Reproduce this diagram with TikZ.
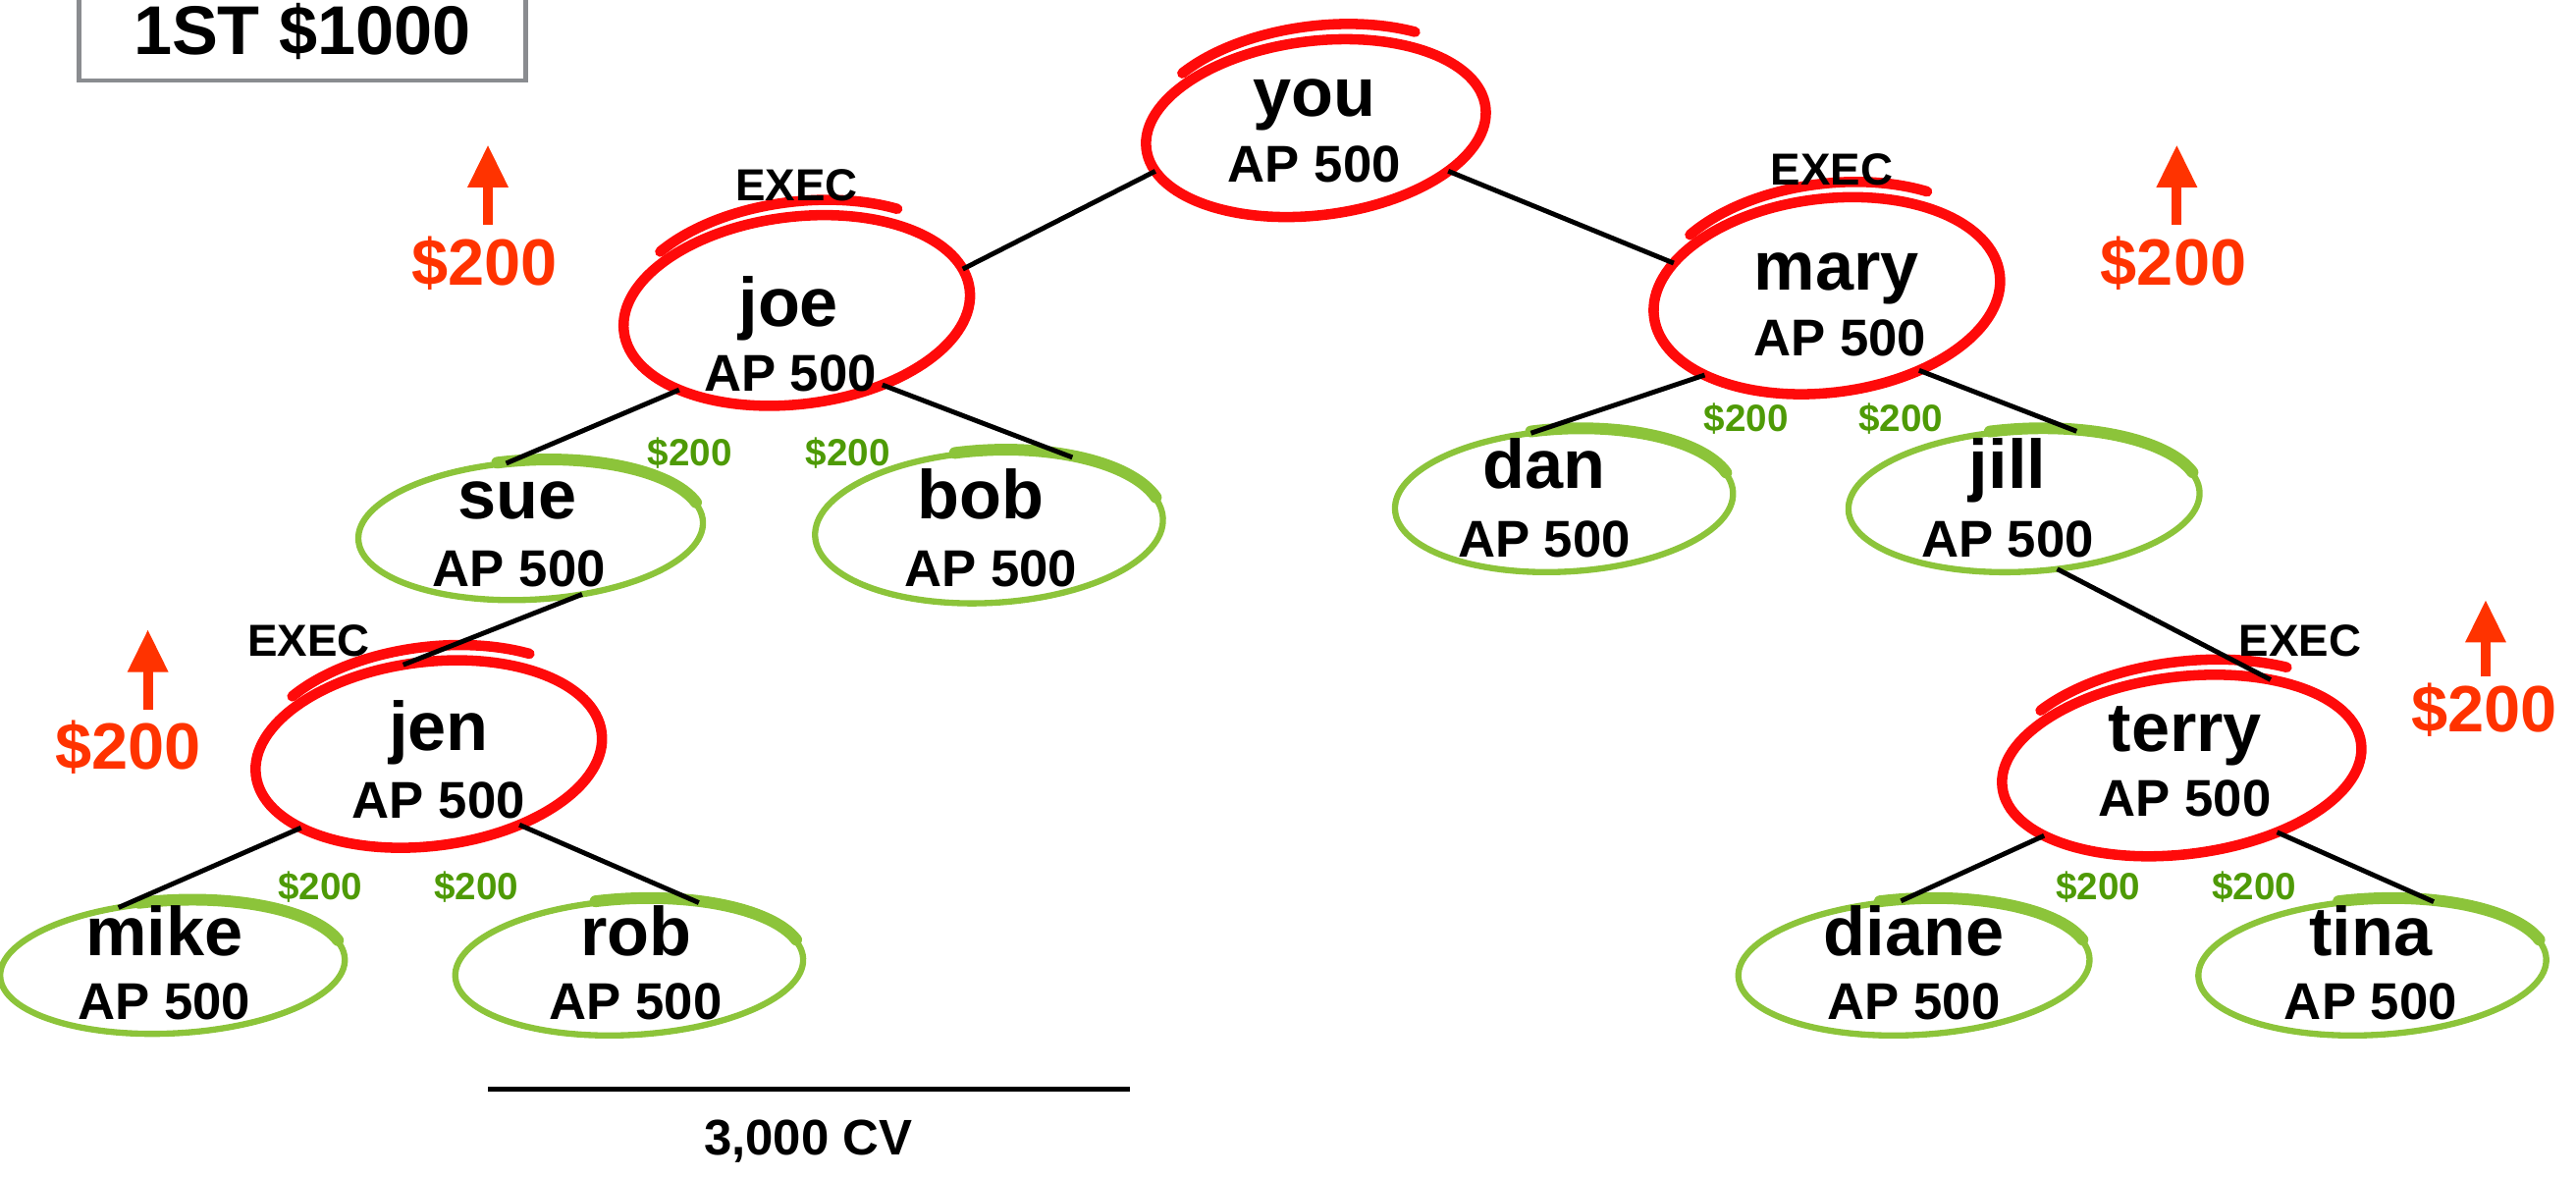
\documentclass[tikz,border=0pt]{standalone}
\usepackage{fontspec}
\setmainfont{Liberation Sans}
\usetikzlibrary{shapes.geometric,arrows.meta}
\definecolor{ringred}{HTML}{FF0A0A}
\definecolor{ringgreen}{HTML}{8CC43A}
\definecolor{moneygreen}{HTML}{4E9A06}
\definecolor{arrowred}{HTML}{FF3300}
\definecolor{boxgray}{HTML}{8A8C90}
\def\uu{0.016735cm}
\begin{document}
\begin{tikzpicture}[x=0.016735cm, y=0.016735cm,
  redring/.style={draw=ringred, line width=3pt, ellipse, inner sep=0pt, outer sep=0pt, rotate=7},
  greenring/.style={draw=ringgreen, line width=1.8pt, ellipse, inner sep=0pt, outer sep=0pt, rotate=3},
  tailred/.style={draw=ringred, line width=3pt, line cap=round},
  thickgreen/.style={draw=ringgreen, line width=3.4pt, line cap=round},
  nm/.style={font=\fontsize{20}{24}\selectfont\bfseries, anchor=mid, inner sep=0pt},
  ap/.style={font=\fontsize{15}{18}\selectfont\bfseries, inner sep=0pt},
  execlbl/.style={font=\fontsize{13}{16}\selectfont\bfseries, inner sep=0pt},
  gm/.style={font=\fontsize{11}{13}\selectfont\bfseries, text=moneygreen, inner sep=0pt},
  rm/.style={font=\fontsize{19}{22}\selectfont\bfseries, text=arrowred, inner sep=0pt},
  link/.style={line width=1.4pt},
  uparrow/.style={draw=arrowred, line width=2.9pt, -{Triangle[length=12.4pt,width=11pt]}},
  scalebar/.style={line width=1.4pt},
  prizebox/.style={draw=boxgray, line width=1.3pt, inner sep=0pt, font=\fontsize{20}{24}\selectfont\bfseries}
]
\useasboundingbox (0,0) rectangle (1568,-716.5);
\clip (0,0) rectangle (1568,-716.5);

% prize box
\node[prizebox, minimum width={272*\uu}, minimum height={60*\uu}] (prize) at (184,-19) {1ST \$1000};

% red rings
\node[redring, minimum width={208*\uu}, minimum height={106*\uu}] (you) at (801,-78) {};
\node[redring, minimum width={212*\uu}, minimum height={114*\uu}] (joe) at (485,-189) {};
\node[redring, minimum width={212*\uu}, minimum height={118*\uu}] (mary) at (1112,-180) {};
\node[redring, minimum width={212*\uu}, minimum height={112*\uu}] (jen) at (261,-459) {};
\node[redring, minimum width={220*\uu}, minimum height={108*\uu}] (terry) at (1328,-466) {};
\foreach \n/\a/\b in {you/104/53, joe/106/57, mary/106/59, jen/106/56, terry/110/54}{
  \draw[tailred, rotate around={7:(\n.center)}] (\n.center) ++(3,9) ++(140:\a\space and \b) arc[start angle=140, end angle=52, x radius=\a, y radius=\b];
}

% green rings
\node[greenring, minimum width={210*\uu}, minimum height={84*\uu}] (sue) at (323,-323) {};
\node[greenring, minimum width={212*\uu}, minimum height={92*\uu}] (bob) at (602,-321) {};
\node[greenring, minimum width={206*\uu}, minimum height={86*\uu}] (dan) at (952,-305) {};
\node[greenring, minimum width={214*\uu}, minimum height={86*\uu}] (jill) at (1232,-305) {};
\node[greenring, minimum width={210*\uu}, minimum height={80*\uu}] (mike) at (105,-589) {};
\node[greenring, minimum width={212*\uu}, minimum height={82*\uu}] (rob) at (383,-589) {};
\node[greenring, minimum width={214*\uu}, minimum height={82*\uu}] (diane) at (1165,-589) {};
\node[greenring, minimum width={212*\uu}, minimum height={82*\uu}] (tina) at (1444,-589) {};
\foreach \n/\a/\b in {sue/105/42, bob/106/46, dan/103/43, jill/107/43, mike/105/40, rob/106/41, diane/107/41, tina/106/41}{
  \draw[thickgreen, rotate around={3:(\n.center)}] (\n.center) ++(0,1) ++(100:\a\space and \b) arc[start angle=100, end angle=15, x radius=\a, y radius=\b];
}

% names and AP
\foreach \n/\t/\x/\y/\ax/\ay in {you/you/800/65/800/100, joe/joe/480/193/481/227, mary/mary/1118/171/1120/206,
  sue/sue/315/310/316/346, bob/bob/597/310/603/346, dan/dan/940/292/940/328, jill/jill/1222/292/1222/328,
  jen/jen/267/451/267/487, terry/terry/1330/452/1330/486, mike/mike/100/576/100/610, rob/rob/387/576/387/610,
  diane/diane/1165/576/1165/610, tina/tina/1443/576/1443/610}{
  \node[nm] (\n-name) at (\x,-\y) {\t};
  \node[ap] (\n-ap) at (\ax,-\ay) {AP 500};
}

% EXEC labels
\node[execlbl] (joe-exec) at (485,-113) {EXEC};
\node[execlbl] (mary-exec) at (1115,-103) {EXEC};
\node[execlbl] (jen-exec) at (188,-390) {EXEC};
\node[execlbl] (terry-exec) at (1400,-390) {EXEC};

% connectors
\draw[link] (you.188.6) -- (joe.7.7);
\draw[link] (you.335.5) -- (mary.161.3);
\draw[link] (joe.207) -- (sue.107.4);
\draw[link] (joe.312.4) -- (bob.37.5);
\draw[link] (mary.206.5) -- (dan.113);
\draw[link] (mary.314) -- (jill.50.7);
\draw[link] (sue.306) -- (jen.99);
\draw[link] (jill.293) -- (terry.37);
\draw[link] (jen.203.8) -- (mike.129);
\draw[link] (jen.315.8) -- (rob.40);
\draw[link] (terry.200) -- (diane.98.5);
\draw[link] (terry.318) -- (tina.44);

% green bonus labels
\node[gm] (g1) at (420,-276) {\$200};
\node[gm] (g2) at (516,-276) {\$200};
\node[gm] (g3) at (1063,-255) {\$200};
\node[gm] (g4) at (1157,-255) {\$200};
\node[gm] (g5) at (195,-540) {\$200};
\node[gm] (g6) at (290,-540) {\$200};
\node[gm] (g7) at (1277,-540) {\$200};
\node[gm] (g8) at (1372,-540) {\$200};

% red up arrows
\coordinate (a1s) at (297,-137); \coordinate (a1t) at (297,-88);
\coordinate (a2s) at (1325,-137); \coordinate (a2t) at (1325,-88);
\coordinate (a3s) at (90,-432); \coordinate (a3t) at (90,-383);
\coordinate (a4s) at (1513,-412); \coordinate (a4t) at (1513,-365);
\draw[uparrow] (a1s) -- (a1t);
\draw[uparrow] (a2s) -- (a2t);
\draw[uparrow] (a3s) -- (a3t);
\draw[uparrow] (a4s) -- (a4t);
\node[rm] (r1) at (295,-160) {\$200};
\node[rm] (r2) at (1323,-160) {\$200};
\node[rm] (r3) at (78,-455) {\$200};
\node[rm] (r4) at (1512,-432) {\$200};

% scale bar
\coordinate (barl) at (297,-663);
\coordinate (barr) at (688,-663);
\draw[scalebar] (barl) -- (barr);
\node[font=\fontsize{14.5}{17}\selectfont\bfseries, inner sep=0pt] (cv) at (492,-695) {3,000 CV};
\end{tikzpicture}
\end{document}
